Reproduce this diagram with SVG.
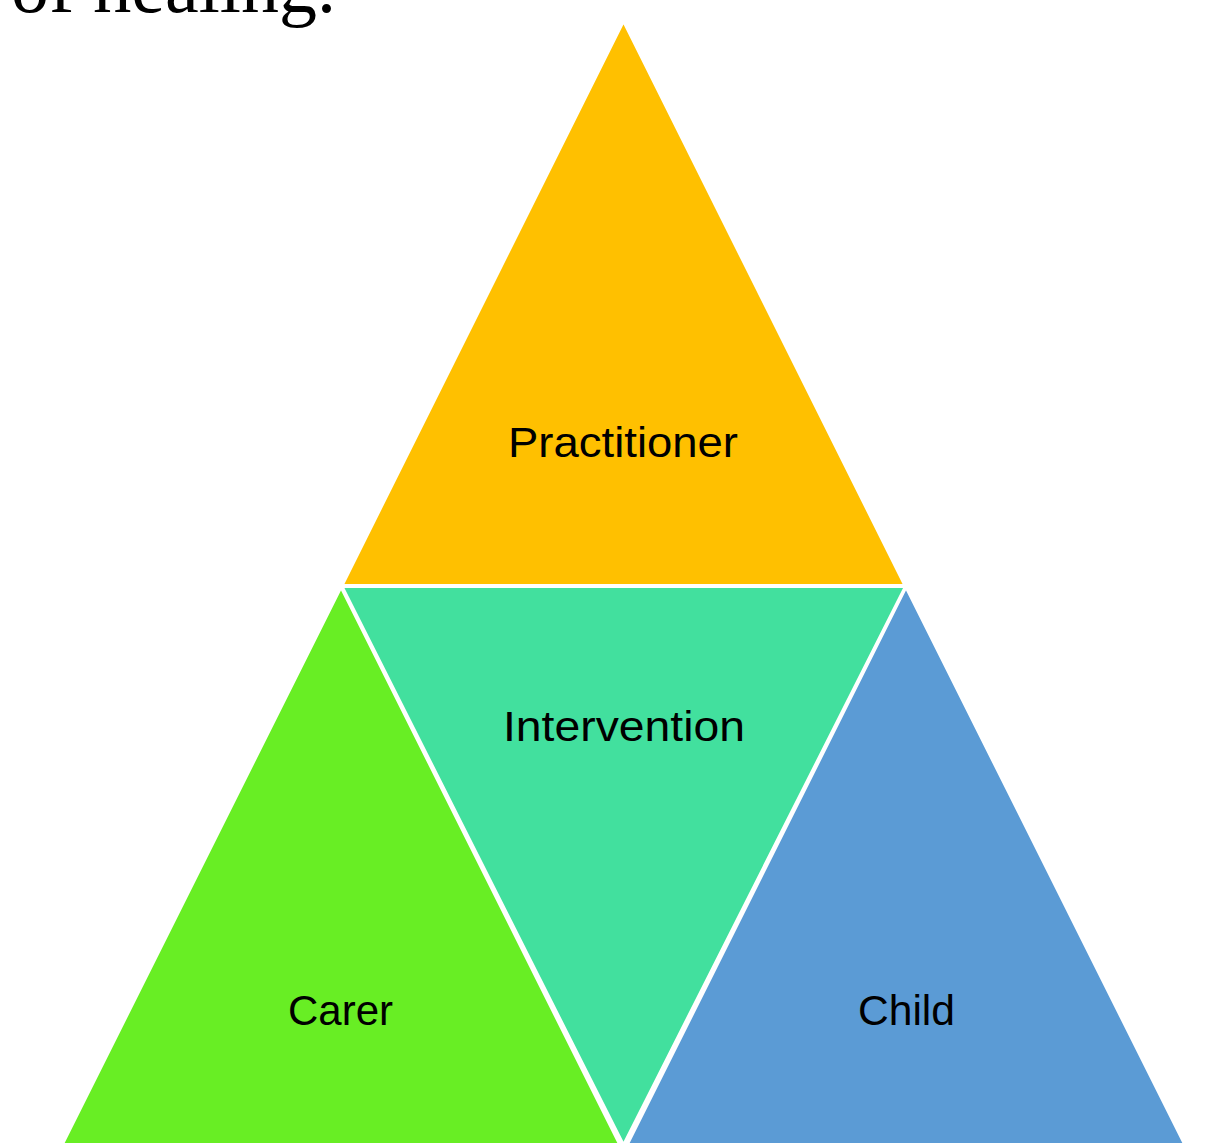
<svg xmlns="http://www.w3.org/2000/svg" width="1209" height="1143" viewBox="0 0 1209 1143">
<style>
.tri{stroke:#FFFFFF;stroke-width:3;stroke-linejoin:miter}
.lbl{font-family:"Liberation Sans","Open Sans",Arial,sans-serif;font-size:42px;fill:#000000;text-anchor:middle}
.head{font-family:"Liberation Serif","Times New Roman",serif;font-size:76px;fill:#000000;text-anchor:end}
</style>
<rect width="1209" height="1143" fill="#FFFFFF"/>
<text class="head" x="336" y="12">of healing.</text>
<g id="practitioner">
<polygon class="tri" points="623.5,21 905,585.5 342,585.5" fill="#FFC000"/>
<text class="lbl" x="623" y="457" textLength="230" lengthAdjust="spacingAndGlyphs">Practitioner</text>
</g>
<g id="carer">
<polygon class="tri" points="341,587 620,1145 62,1145" fill="#68EE24"/>
<text class="lbl" x="340.5" y="1025" textLength="105" lengthAdjust="spacingAndGlyphs">Carer</text>
</g>
<g id="child">
<polygon class="tri" points="906,587 1185,1145 627,1145" fill="#5B9BD5"/>
<text class="lbl" x="906.5" y="1025" textLength="97" lengthAdjust="spacingAndGlyphs">Child</text>
</g>
<g id="intervention">
<polygon class="tri" points="342,586.5 905.5,586.5 623.5,1145" fill="#42E09E"/>
<text class="lbl" x="624" y="741" textLength="242" lengthAdjust="spacingAndGlyphs">Intervention</text>
</g>
<g id="connectors"></g>
</svg>
